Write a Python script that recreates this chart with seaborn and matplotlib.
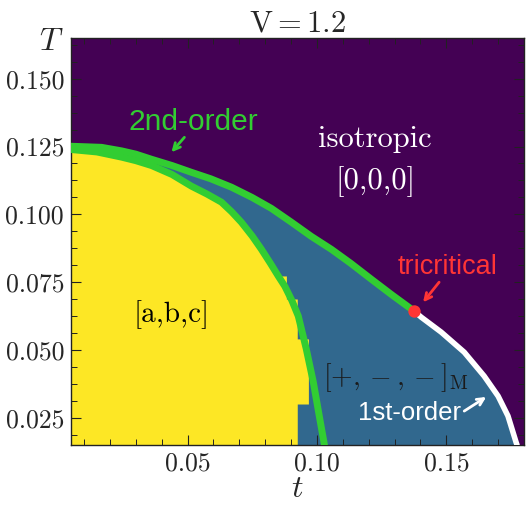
"""Phase diagram at V = 1.2 in the (t, T) plane."""

import matplotlib
matplotlib.use("Agg")
import matplotlib.pyplot as plt
import seaborn as sns
from matplotlib.ticker import FormatStrFormatter, MultipleLocator

sns.set_theme(style="ticks")
plt.rcParams["font.family"] = ["cmr10", "DejaVu Serif"]
plt.rcParams["mathtext.fontset"] = "cm"
plt.rcParams["axes.unicode_minus"] = False
plt.rcParams["axes.formatter.use_mathtext"] = True

PURPLE, BLUE, YELLOW = "#440154", "#31688e", "#fde725"
GREEN, RED = "#32cd32", "#ff3535"
SANS = ["Liberation Sans", "DejaVu Sans"]

# upper 2nd-order line (isotropic boundary), left edge -> tricritical point
second_upper_t = [0.005, 0.0168, 0.0245, 0.0300, 0.0361, 0.0440, 0.0515, 0.0590, 0.0670, 0.0750,
                  0.0824, 0.0900, 0.0978, 0.1056, 0.1130, 0.1210, 0.1290, 0.1376]
second_upper_T = [0.1251, 0.1247, 0.1234, 0.1222, 0.1203, 0.1180, 0.1155, 0.1131, 0.1100, 0.1062,
                  0.1022, 0.0972, 0.0919, 0.0871, 0.0820, 0.0761, 0.0703, 0.0643]

# lower 2nd-order line ([a,b,c] boundary)
second_lower_t = [0.005, 0.0150, 0.0245, 0.0300, 0.0361, 0.0440, 0.0515, 0.0575, 0.0631, 0.0670,
                  0.0708, 0.0750, 0.0785, 0.0820, 0.0851, 0.0876, 0.0903, 0.0928, 0.0959, 0.0986,
                  0.1009, 0.1029]
second_lower_T = [0.1239, 0.1230, 0.1211, 0.1198, 0.1180, 0.1147, 0.1104, 0.1075, 0.1045, 0.1010,
                  0.0971, 0.0920, 0.0872, 0.0820, 0.0772, 0.0735, 0.0683, 0.0625, 0.0503, 0.0382,
                  0.0257, 0.0150]

# 1st-order line, tricritical point -> bottom edge
first_t = [0.1376, 0.1403, 0.1480, 0.1569, 0.1646, 0.1700, 0.1738, 0.1769, 0.1773]
first_T = [0.0643, 0.0621, 0.0566, 0.0492, 0.0404, 0.0330, 0.0257, 0.0161, 0.0150]

# edge of the [a,b,c] cells on the computed grid (stepped at the bottom)
abc_edge_t = [0.005, 0.0150, 0.0245, 0.0361, 0.0515, 0.0631, 0.0708, 0.0785, 0.0851, 0.0882,
              0.0882, 0.0924, 0.0924, 0.0967, 0.0967, 0.0924, 0.0924]
abc_edge_T = [0.1239, 0.1230, 0.1211, 0.1180, 0.1104, 0.1045, 0.0971, 0.0872, 0.0773, 0.0773,
              0.0688, 0.0688, 0.0541, 0.0541, 0.0301, 0.0301, 0.0150]

tricritical_t, tricritical_T = 0.1376, 0.0643


def main():
    fig = plt.figure(figsize=(5.32, 5.17), dpi=100)
    ax = fig.add_axes([0.1335, 0.1393, 0.8515, 0.7872])
    ax.set_facecolor(PURPLE)
    ax.set_axisbelow(False)

    # ordered region: everything under the isotropic boundary
    ax.fill_between(second_upper_t + first_t, 0, second_upper_T + first_T, color=BLUE, lw=0, zorder=1)
    ax.fill_betweenx(abc_edge_T, 0, abc_edge_t, color=YELLOW, lw=0, zorder=1.5)

    sns.lineplot(x=second_upper_t, y=second_upper_T, sort=False, estimator=None,
                 color=GREEN, lw=5, ax=ax, zorder=3)
    sns.lineplot(x=second_lower_t, y=second_lower_T, sort=False, estimator=None,
                 color=GREEN, lw=5, ax=ax, zorder=3)
    sns.lineplot(x=first_t, y=first_T, sort=False, estimator=None,
                 color="white", lw=4, ax=ax, zorder=3)
    ax.scatter([tricritical_t], [tricritical_T], s=80, color=RED, lw=0, zorder=4)

    # annotations
    arrow = dict(arrowstyle="->", lw=2, shrinkA=0, shrinkB=0)
    ax.annotate("", xy=(0.0438, 0.1229), xytext=(0.0488, 0.1284),
                arrowprops={**arrow, "color": GREEN}, zorder=5)
    ax.text(0.0523, 0.1340, "2nd-order", color=GREEN, family=SANS, fontsize=21.5,
            ha="center", va="center", zorder=5)
    ax.annotate("", xy=(0.1410, 0.0676), xytext=(0.1472, 0.0750),
                arrowprops={**arrow, "color": RED}, zorder=5)
    ax.text(0.1503, 0.0805, "tricritical", color=RED, family=SANS, fontsize=19.5,
            ha="center", va="center", zorder=5)
    ax.annotate("", xy=(0.1654, 0.0327), xytext=(0.1569, 0.0275),
                arrowprops={**arrow, "color": "white"}, zorder=5)
    ax.text(0.1357, 0.0268, "1st-order", color="white", family=SANS, fontsize=18.5,
            ha="center", va="center", zorder=5)

    ax.text(0.1225, 0.1277, "isotropic", color="white", fontsize=22, ha="center", va="center")
    ax.text(0.1225, 0.1121, "[0,0,0]", color="white", fontsize=22, ha="center", va="center")
    ax.text(0.0438, 0.0632, "[a,b,c]", color="black", fontsize=21, ha="center", va="center")
    ax.text(0.1302, 0.0400, r"$[+,-,-]_{\mathrm{M}}$", color="#1a1a1a", fontsize=20,
            ha="center", va="center")

    ax.set_xlim(0.005, 0.18)
    ax.set_ylim(0.015, 0.165)
    ax.xaxis.set_major_locator(MultipleLocator(0.05))
    ax.xaxis.set_minor_locator(MultipleLocator(0.01))
    ax.yaxis.set_major_locator(MultipleLocator(0.025))
    ax.yaxis.set_minor_locator(MultipleLocator(0.00625))
    ax.xaxis.set_major_formatter(FormatStrFormatter("%.2f"))
    ax.yaxis.set_major_formatter(FormatStrFormatter("%.3f"))
    ax.tick_params(which="both", direction="in", top=True, right=True, color="#222222",
                   labelsize=18.5, pad=5)
    ax.tick_params(which="major", length=7, width=0.8)
    ax.tick_params(which="minor", length=4, width=0.7)
    for sp in ax.spines.values():
        sp.set_linewidth(1.0)
        sp.set_color("#222222")

    ax.set_xlabel("$t$", fontsize=23, va="center")
    ax.xaxis.set_label_coords(0.5, -0.11)
    ax.set_ylabel("$T$", fontsize=23, rotation=0, ha="center", va="center")
    ax.yaxis.set_label_coords(-0.043, 0.989)
    ax.set_title(r"$\mathrm{V} = 1.2$", fontsize=22, pad=5)

    fig.savefig("out.png", dpi=100)
    plt.close(fig)


if __name__ == "__main__":
    main()
